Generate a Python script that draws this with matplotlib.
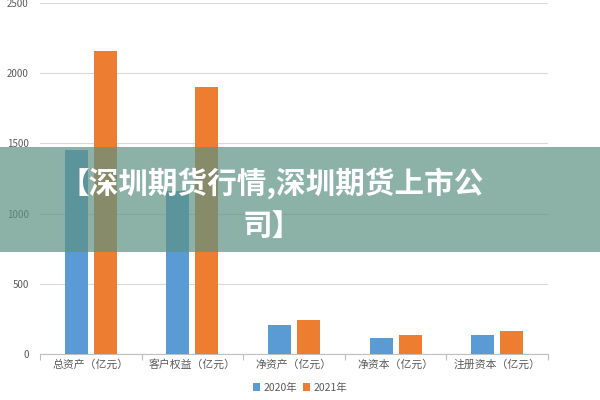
import matplotlib
matplotlib.use("Agg")
import matplotlib.pyplot as plt
import numpy as np
from matplotlib.patches import Rectangle

plt.rcParams['font.family'] = ['Noto Sans CJK SC', 'DejaVu Sans']

categories = ["总资产（亿元）", "客户权益（亿元）", "净资产（亿元）", "净资本（亿元）", "注册资本（亿元）"]
series_names = ["2020年", "2021年"]
values_2020 = [1453, 1160, 209, 112, 138]
values_2021 = [2156, 1902, 242, 138, 164]
yticks = [0, 500, 1000, 1500, 2000, 2500]
title_lines = ["【深圳期货行情,深圳期货上市公", "司】"]

blue = "#5B9BD5"
orange = "#ED7D31"
grey_txt = "#595959"

fig = plt.figure(figsize=(6, 4), dpi=100)
ax = fig.add_axes([40/600, 46/400, 508/600, 351/400])

x = np.arange(len(categories))
w = 0.226
off = 0.143
ax.bar(x - off, values_2020, width=w, color=blue, label=series_names[0], zorder=3)
ax.bar(x + off, values_2021, width=w, color=orange, label=series_names[1], zorder=3)

ax.set_xlim(-0.5, len(categories) - 0.5)
ax.set_ylim(0, 2500)
ax.set_yticks(yticks)
ax.set_yticklabels([str(v) for v in yticks], fontsize=7, color=grey_txt)
ax.tick_params(axis='y', length=0, pad=8)
ax.yaxis.grid(True, color="#D9D9D9", linewidth=0.8, zorder=0)
ax.set_axisbelow(True)

ax.set_xticks(x)
ax.set_xticklabels(categories, fontsize=7.8, color=grey_txt)
ax.tick_params(axis='x', length=0, pad=4)
ax.set_xticks(np.arange(len(categories) + 1) - 0.5, minor=True)
ax.tick_params(axis='x', which='minor', length=4, color="#BFBFBF", width=0.8)

for s in ['top', 'right', 'left']:
    ax.spines[s].set_visible(False)
ax.spines['bottom'].set_color("#BFBFBF")
ax.spines['bottom'].set_linewidth(0.8)

fig.legend(loc='lower center', bbox_to_anchor=(0.5, -0.005), ncol=2, frameon=False,
           fontsize=7.5, handlelength=0.7, handleheight=0.7, handletextpad=0.3,
           columnspacing=0.6, labelcolor=grey_txt)

# banner overlay
fig.patches.append(Rectangle((0, 1 - 252/400), 1, 105/400, transform=fig.transFigure,
                             facecolor=(92/255, 146/255, 131/255), alpha=0.7,
                             edgecolor='none', zorder=10))
fig.text(272/600, 1 - 204/400, "\n".join(title_lines),
         ha='center', va='center', fontsize=21.3, fontweight='black', color='white',
         linespacing=1.5, zorder=11)

fig.savefig("out.png", dpi=100)
